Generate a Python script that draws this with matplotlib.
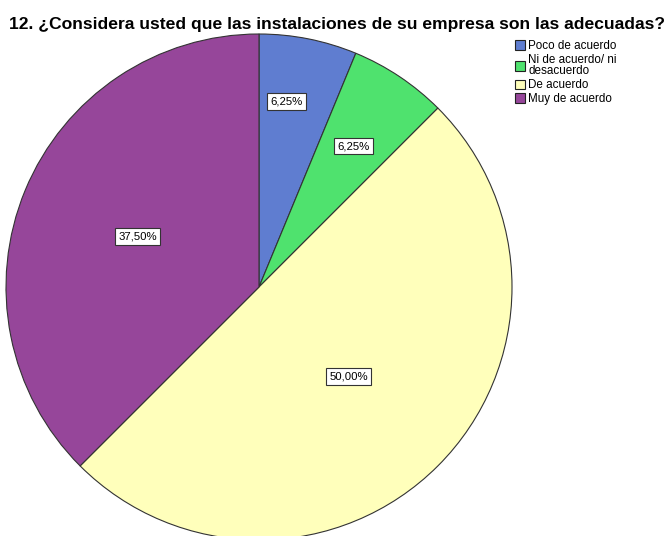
import numpy as np
import matplotlib.pyplot as plt
from matplotlib.patches import Patch

plt.rcParams['font.family'] = ['Liberation Sans', 'DejaVu Sans']

title = "12. ¿Considera usted que las instalaciones de su empresa son las adecuadas?"
categories = ['Poco de acuerdo', 'Ni de acuerdo/ ni\ndesacuerdo', 'De acuerdo', 'Muy de acuerdo']
percents = [6.25, 6.25, 50.00, 37.50]
colors = ['#5f7dd0', '#4fe26e', '#ffffbb', '#96469a']
# radial distance and position along the wedge arc for each label
label_dist = [0.74, 0.67, 0.50, 0.52]
label_frac = [0.37, 0.5, 0.5, 0.5]

fig = plt.figure(figsize=(6.71, 5.36), dpi=100)
W, H = 671, 536
cx, cy, r = 259, 287, 253
ax = fig.add_axes([(cx - r) / W, (H - cy - r) / H, 2 * r / W, 2 * r / H])

wedges, _ = ax.pie(percents, colors=colors, startangle=90, counterclock=False,
                   radius=1.0, wedgeprops=dict(edgecolor='#333333', linewidth=0.8))
ax.set_xlim(-1, 1)
ax.set_ylim(-1, 1)
ax.set_aspect('equal')
ax.axis('off')

for w, p, d, f in zip(wedges, percents, label_dist, label_frac):
    # wedges run clockwise, so theta2 is the leading edge
    ang = np.deg2rad(w.theta2 - f * (w.theta2 - w.theta1))
    ax.text(d * np.cos(ang), d * np.sin(ang), f"{p:.2f}%".replace('.', ','),
            ha='center', va='center', fontsize=8.2,
            bbox=dict(boxstyle='square,pad=0.3', fc='white', ec='#333333', lw=0.8))

fig.text(337 / W, 1 - 25 / H, title, ha='center', va='center',
         fontsize=12.6, fontweight='bold')

handles = [Patch(facecolor=c, edgecolor='#222222', linewidth=0.8) for c in colors]
leg = fig.legend(handles, categories, loc='upper left', bbox_to_anchor=(507 / W, 1 - 32 / H),
                 frameon=False, fontsize=8.4, handlelength=0.85, handleheight=0.85,
                 handletextpad=0.25, labelspacing=0.15, borderpad=0.2)
for t in leg.get_texts():
    t.set_linespacing(0.95)

fig.savefig('out.png', dpi=100)
